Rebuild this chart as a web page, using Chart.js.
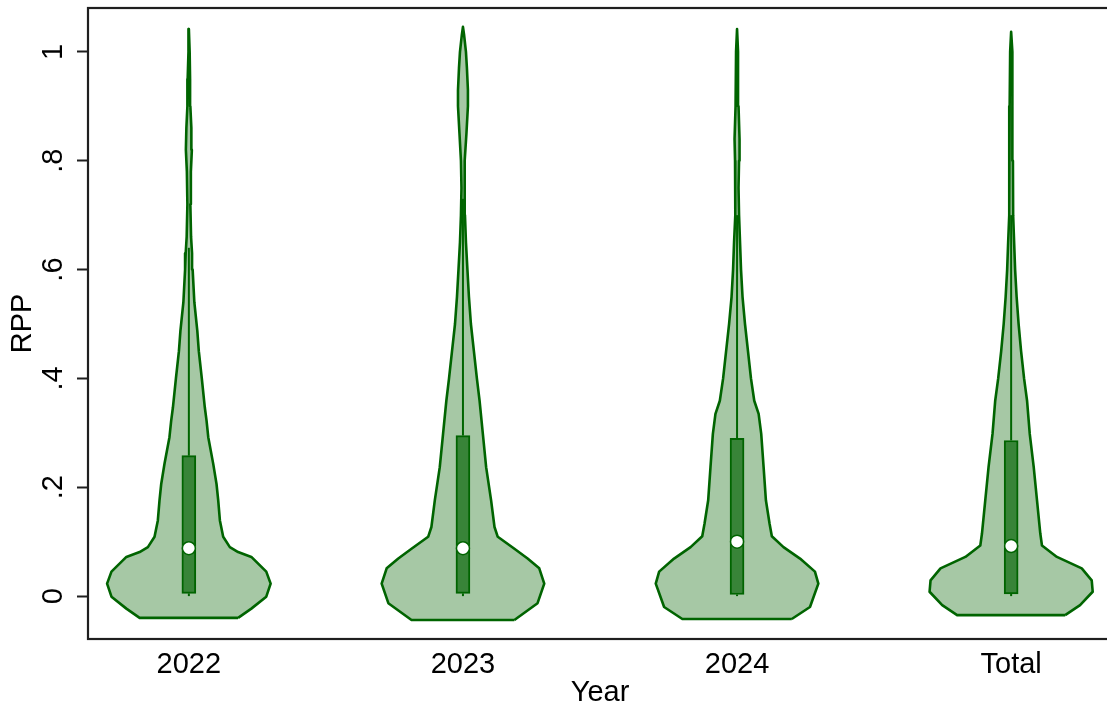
<!DOCTYPE html>
<html><head><meta charset="utf-8">
<script src="https://cdn.jsdelivr.net/npm/chart.js@4.4.0/dist/chart.umd.min.js"></script>
<style>html,body{margin:0;padding:0;overflow:hidden;background:#fff;width:1107px;height:708px}canvas{display:block}</style>
</head><body>
<canvas id="c" width="1120" height="708"></canvas>
<script>
// ---- data ----
const categories = ['2022', '2023', '2024', 'Total'];
const yTickValues = [0, 0.2, 0.4, 0.6, 0.8, 1];
const yTickLabels = ['0', '.2', '.4', '.6', '.8', '1'];
const medians  = [0.088, 0.088, 0.100, 0.092];
const q1       = [0.005, 0.005, 0.003, 0.004];
const q3       = [0.258, 0.295, 0.290, 0.286];
const upperAdj = [0.640, 0.730, 0.700, 0.700];
const lowerAdj = [0.000, 0.000, 0.000, 0.000];

// violin outlines: RPP levels and half-widths (in category units)
const violinY2022 = [-0.040, -0.023, -0.001, 0.023, 0.045, 0.072, 0.081, 0.090, 0.109, 0.139, 0.176, 0.206, 0.243, 0.292, 0.322, 0.347, 0.400, 0.450, 0.487, 0.540, 0.600, 0.630, 0.660, 0.720, 0.780, 0.820, 0.860, 0.900, 0.950, 1.000, 1.042];
const violinW2022 = [0.1797, 0.228, 0.2824, 0.2984, 0.2824, 0.228, 0.1797, 0.1495, 0.1252, 0.1132, 0.1071, 0.1009, 0.0889, 0.0708, 0.0646, 0.0581, 0.0472, 0.0363, 0.0309, 0.020, 0.0138, 0.0116, 0.008, 0.0054, 0.0073, 0.0109, 0.0091, 0.0054, 0.0044, 0.0029, 0];
const violinY2023 = [-0.044, -0.013, 0.023, 0.051, 0.069, 0.087, 0.109, 0.127, 0.176, 0.237, 0.298, 0.359, 0.400, 0.450, 0.500, 0.550, 0.600, 0.650, 0.700, 0.750, 0.800, 0.850, 0.900, 0.930, 0.970, 1.000, 1.030, 1.046];
const violinW2023 = [0.1877, 0.2722, 0.2966, 0.2784, 0.2359, 0.1877, 0.127, 0.1151, 0.1027, 0.0846, 0.0726, 0.0606, 0.0508, 0.0399, 0.029, 0.0218, 0.0163, 0.0109, 0.0073, 0.0054, 0.0073, 0.0127, 0.0181, 0.0181, 0.0145, 0.0109, 0.0044, 0];
const violinY2024 = [-0.042, -0.020, 0.023, 0.045, 0.069, 0.090, 0.110, 0.133, 0.176, 0.237, 0.298, 0.335, 0.359, 0.400, 0.450, 0.500, 0.550, 0.600, 0.650, 0.700, 0.750, 0.800, 0.840, 0.900, 1.000, 1.042];
const violinW2024 = [0.1996, 0.2661, 0.2966, 0.2842, 0.2298, 0.1695, 0.127, 0.1187, 0.1053, 0.0969, 0.0882, 0.0788, 0.0628, 0.0508, 0.0399, 0.029, 0.020, 0.0145, 0.0109, 0.0073, 0.0054, 0.0073, 0.0091, 0.0054, 0.0036, 0];
const violinYTotal = [-0.035, -0.0165, 0.008, 0.029, 0.051, 0.072, 0.093, 0.115, 0.176, 0.237, 0.298, 0.359, 0.400, 0.450, 0.500, 0.550, 0.600, 0.650, 0.700, 0.800, 0.900, 1.000, 1.037];
const violinWTotal = [0.1971, 0.2515, 0.2976, 0.294, 0.2577, 0.167, 0.1125, 0.1064, 0.0944, 0.0824, 0.0679, 0.0581, 0.0472, 0.0363, 0.0272, 0.020, 0.0145, 0.0109, 0.0073, 0.0065, 0.0054, 0.0036, 0];

const violinYs = [violinY2022, violinY2023, violinY2024, violinYTotal];
const violinWs = [violinW2022, violinW2023, violinW2024, violinWTotal];

// ---- styles ----
const DARK = '#006400';
const FILL = '#a6c8a5';
const BOXFILL = '#388438';
const FONT = {family: "'Liberation Sans', Arial, sans-serif", size: 29, lineHeight: 1};

const datasets = [];
categories.forEach((cat, i) => {
  const c = i + 1;
  const ys = violinYs[i], ws = violinWs[i];
  const pts = [];
  for (let k = 0; k < ys.length; k++) pts.push({x: c + ws[k], y: ys[k]});
  for (let k = ys.length - 1; k >= 0; k--) pts.push({x: c - ws[k], y: ys[k]});
  pts.push({x: c + ws[0], y: ys[0]});
  datasets.push({type: 'line', data: pts, borderColor: DARK, backgroundColor: FILL, borderWidth: 2.6,
    borderJoinStyle: 'round', fill: 'shape', pointRadius: 0, tension: 0, order: 4});
  datasets.push({type: 'line', data: [{x: c, y: q3[i]}, {x: c, y: upperAdj[i]}], borderColor: DARK,
    borderWidth: 2, pointRadius: 0, fill: false, order: 3});
  datasets.push({type: 'line', data: [{x: c, y: lowerAdj[i]}, {x: c, y: q1[i]}], borderColor: DARK,
    borderWidth: 2, pointRadius: 0, fill: false, order: 3});
});
datasets.push({type: 'bar', data: categories.map((c, i) => ({x: i + 1, y: [q1[i], q3[i]]})),
  backgroundColor: BOXFILL, borderColor: DARK, borderWidth: 2, borderSkipped: false, barThickness: 14, order: 2});
datasets.push({type: 'line', data: categories.map((c, i) => ({x: i + 1, y: medians[i]})), showLine: false,
  pointRadius: 6.5, pointBackgroundColor: '#ffffff', pointBorderColor: DARK, pointBorderWidth: 1.5, order: 1});

const framePlugin = {
  id: 'frame',
  afterDraw(chart) {
    const {ctx, chartArea: a} = chart;
    ctx.save();
    ctx.strokeStyle = '#1f1f1f';
    ctx.lineWidth = 2.2;
    ctx.strokeRect(a.left, a.top, a.right - a.left, a.bottom - a.top);
    ctx.restore();
  }
};

new Chart(document.getElementById('c'), {
  data: {datasets},
  options: {
    responsive: false, animation: false, devicePixelRatio: 1,
    layout: {padding: {top: 6, right: 3, left: 0, bottom: 0}},
    plugins: {legend: {display: false}, tooltip: {enabled: false}},
    scales: {
      x: {
        type: 'linear', min: 0.632, max: 4.368, offset: false,
        afterBuildTicks: s => { s.ticks = categories.map((c, i) => ({value: i + 1})); },
        afterFit: s => { s.height = 69; s.paddingLeft = 0; s.paddingRight = 0; },
        ticks: {callback: (v) => categories[Math.round(v) - 1], font: FONT, color: '#000', padding: 11, autoSkip: false, maxRotation: 0, minRotation: 0},
        grid: {drawOnChartArea: false, drawTicks: false},
        border: {display: false},
        title: {display: true, text: 'Year', font: FONT, color: '#000', padding: {top: 0, bottom: 1}}
      },
      y: {
        type: 'linear', min: -0.0788, max: 1.0806,
        afterBuildTicks: s => { s.ticks = yTickValues.map(v => ({value: v})); },
        afterFit: s => { s.width = 88; s.paddingTop = 0; s.paddingBottom = 0; },
        ticks: {callback: (v) => { const k = yTickValues.indexOf(v); return k >= 0 ? yTickLabels[k] : ''; },
          font: FONT, color: '#000', padding: 11, autoSkip: false, minRotation: 90, maxRotation: 90, crossAlign: 'center'},
        grid: {drawOnChartArea: false, drawTicks: true, tickLength: 11, tickWidth: 2, tickColor: '#1f1f1f'},
        border: {display: false},
        title: {display: true, text: 'RPP', font: FONT, color: '#000', padding: {top: 8, bottom: 0}}
      }
    }
  },
  plugins: [framePlugin]
});
</script>
</body></html>
